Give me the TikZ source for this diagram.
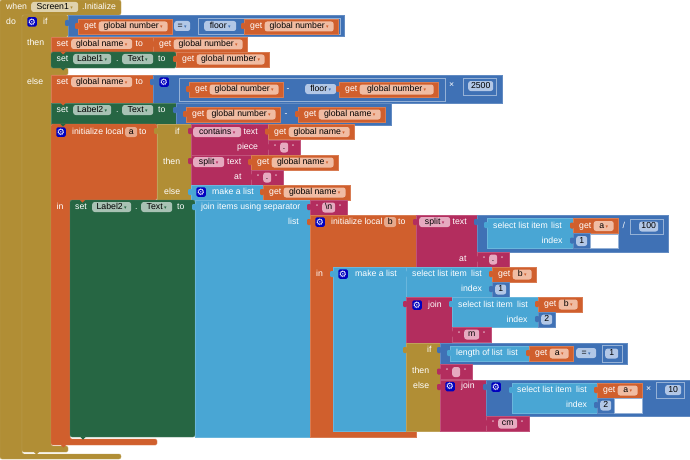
\documentclass[tikz,border=0pt]{standalone}
\usepackage{fontspec}
\setmainfont{Liberation Sans}
\newfontfamily\Nsymf{DejaVu Sans}
\definecolor{cgold}{HTML}{B18E35}
\definecolor{corange}{HTML}{D05F2D}
\definecolor{cgreen}{HTML}{266643}
\definecolor{cblue}{HTML}{3F71B5}
\definecolor{csky}{HTML}{49A6D4}
\definecolor{cmag}{HTML}{B32D5E}
\definecolor{tgold}{HTML}{DFD2AD}
\definecolor{torange}{HTML}{F0BCA3}
\definecolor{tlocal}{HTML}{E6A98C}
\definecolor{tgreen}{HTML}{A8C2B4}
\definecolor{tblue}{HTML}{B2C7E6}
\definecolor{tmag}{HTML}{E6AAC0}
\newcommand{\Ndd}[1][corange]{\,\textcolor{#1}{\Nsymf\fontsize{5}{5}\selectfont ▾}}
\newcommand{\Nblk}[5]{\draw[blk=#1] (#2,#3) rectangle (#4,#5);}
\newcommand{\Ntab}[3]{\fill[#1, rounded corners=1pt] (#2+1,#3) rectangle (#2-3,#3+6);}
\newcommand{\Nbump}[3]{\fill[#1] (#2-2.5,#3) -- (#2+2.5,#3) -- (#2,#3+2.5) -- cycle;}
\newcommand{\Nfield}[6]{\node[pill=#2, anchor=west, minimum width=(#4)-(#3)] (#1) at (#3,#5) {#6};}
\newcommand{\Ngear}[3]{\node[gearbox] (#1) at (#2,#3) {\Nsymf ⚙};}
\newcommand{\Nget}[5]{\Nblk{corange}{#2}{#3}{#4}{#3+15}\Ntab{corange}{#2}{#3+4}
  \node[lab] (#1) at (#2+6,#3+7.5) {get};
  \Nfield{#1v}{torange}{#2+20.5}{#4-4.5}{#3+7.5}{#5\Ndd}}
\newcommand{\Nstr}[5]{\Nblk{cmag}{#2}{#3}{#4}{#3+15}\Ntab{cmag}{#2}{#3+4}
  \node[qt] (#1a) at (#2+7,#3+7) {"};
  \node[qt] (#1b) at (#4-7,#3+7) {"};
  \Nfield{#1}{tmag}{#2+12}{#4-12}{#3+7.5}{#5}}
\newcommand{\Nnum}[4]{\Nblk{cblue}{#2}{#3}{#2+17}{#3+15}\Ntab{cblue}{#2}{#3+4}
  \Nfield{#1}{tblue}{#2+3}{#2+14}{#3+7.5}{#4}}

\begin{document}
\begin{tikzpicture}[
  x=1pt, y=-1pt,
  every node/.style={font=\fontsize{8.7}{10}\selectfont},
  blk/.style={fill=#1, draw=#1!82!white, line width=0.4pt},
  lab/.style={text=white, anchor=west, inner sep=0pt, text height=6.5pt, text depth=2pt},
  pill/.style={fill=#1, text=black, rounded corners=2.5pt, inner sep=0pt,
               minimum height=10pt, text height=6.5pt, text depth=2pt},
  qt/.style={text=white, inner sep=0pt, font=\fontsize{6.5}{7}\selectfont},
  gearbox/.style={fill=blue!75!black, text=white, rounded corners=1.5pt, inner sep=0pt,
                  minimum size=9.5pt, font=\fontsize{9}{9}\selectfont},
  frame/.style={draw=cblue!55!white, line width=0.4pt},
  hole/.style={fill=white, draw=cblue!55!white, line width=0.4pt}
]
\useasboundingbox (0,0) rectangle (690,460);

% ── Event block and outer if ─────────────────────────────────────────────────
\draw[blk=cgold, rounded corners=2pt] (0,0) -- (121,0) -- (121,15) -- (22,15) -- (22,454)
  -- (121,454) -- (121,459) -- (0,459) -- cycle;
\node[lab] (when) at (6,7) {when};
\Nfield{screen}{tgold}{31}{78}{7}{Screen1\Ndd[cgold]}
\node[lab] (init) at (82,7) {.Initialize};
\node[lab] (doL) at (6,22) {do};

\draw[blk=cgold, rounded corners=1.5pt] (22,15) -- (68,15) -- (68,37) -- (51,37) -- (51,68)
  -- (68,68) -- (68,75) -- (51,75) -- (51,446) -- (68,446) -- (68,452) -- (22,452) -- cycle;
\Nbump{cgold}{36.5}{452}
\Ngear{gearA}{32}{22}
\node[lab] (ifA) at (43,22) {if};
\node[lab] (thenA) at (27,43) {then};
\node[lab] (elseA) at (27,82) {else};

% ── Test of the outer if ─────────────────────────────────────────────────────
\Nblk{cblue}{68}{15}{344}{36}\Ntab{cblue}{68}{20}
\Nget{getA}{78}{19}{172}{global number}
\Nfield{eqA}{tblue}{174}{190}{26}{=\Ndd[cblue]}
\draw[frame] (198,18) rectangle (340,34);
\Nfield{floorA}{tblue}{204}{236}{26}{floor\Ndd[cblue]}
\Nget{getB}{244}{19}{338}{global number}

% ── Then branch ──────────────────────────────────────────────────────────────
\Nblk{corange}{51}{37}{247}{52}
\node[lab] (setA) at (56.5,44) {set};
\Nfield{nameA}{torange}{71}{132}{44}{global name\Ndd}
\node[lab] (toA) at (135.5,44) {to};
\Nget{getC}{153}{37}{247}{global number}
\draw[blk=cgreen, rounded corners=1.5pt] (51,52) -- (176,52) -- (176,68) -- (51,68) -- cycle;
\Nbump{corange}{63}{52}
\Nbump{cgreen}{63}{68}
\node[lab] (setB) at (56.5,59) {set};
\Nfield{labelA}{tgreen}{73}{111}{59}{Label1\Ndd[cgreen]}
\node[lab] (dotA) at (116,59) {.};
\Nfield{textA}{tgreen}{122}{153}{59}{Text\Ndd[cgreen]}
\node[lab] (toB) at (158,59) {to};
\Nget{getD}{176}{52}{269}{global number}

% ── Else branch: the two set blocks ──────────────────────────────────────────
\Nblk{corange}{51}{75}{153}{103}
\node[lab] (setC) at (56.5,82) {set};
\Nfield{nameB}{torange}{71}{132}{82}{global name\Ndd}
\node[lab] (toC) at (135.5,82) {to};
\Nblk{cblue}{153}{75}{502}{103}\Ntab{cblue}{153}{79}
\Ngear{gearB}{164}{82}
\draw[frame] (179,78) rectangle (445,101);
\Nget{getE}{189}{82}{283}{global number}
\node[lab] (minusA) at (286.5,89) {-};
\Nfield{floorB}{tblue}{305}{336}{89}{floor\Ndd[cblue]}
\Nget{getF}{339}{82}{438}{global number}
\node[lab] (timesA) at (449,85) {×};
\draw[frame] (463,78) rectangle (496,95);
\Nfield{numA}{tblue}{468}{493}{86}{2500}

\draw[blk=cgreen] (51,103) rectangle (176,124);
\Nbump{corange}{63}{103}
\node[lab] (setD) at (56.5,110) {set};
\Nfield{labelB}{tgreen}{73}{111}{110}{Label2\Ndd[cgreen]}
\node[lab] (dotB) at (116,110) {.};
\Nfield{textB}{tgreen}{122}{153}{110}{Text\Ndd[cgreen]}
\node[lab] (toD) at (158,110) {to};
\Nblk{cblue}{176}{103}{391}{125}\Ntab{cblue}{176}{107}
\Nget{getG}{186}{107}{280}{global number}
\node[lab] (minusB) at (284.5,114) {-};
\Nget{getH}{298}{107}{385}{global name}

% ── Initialize local a ───────────────────────────────────────────────────────
\draw[blk=corange, rounded corners=1.5pt] (51,124) -- (157,124) -- (157,200) -- (70,200) -- (70,439)
  -- (157,439) -- (157,445) -- (51,445) -- cycle;
\Nbump{cgreen}{63}{124}
\Nbump{corange}{63.5}{445}
\Ngear{gearC}{61}{132}
\node[lab] (initA) at (72,132) {initialize local};
\Nfield{varA}{tlocal}{125}{137}{132}{a}
\node[lab] (toE) at (139,132) {to};
\node[lab] (inA) at (56.5,207) {in};

% ── If expression for local a ────────────────────────────────────────────────
\Nblk{cgold}{157}{124}{191}{200}\Ntab{cgold}{157}{128}
\node[lab] (ifB) at (175,132) {if};
\node[lab] (thenB) at (163,162) {then};
\node[lab] (elseB) at (164,192) {else};
\Nblk{cmag}{191}{124}{268}{155}\Ntab{cmag}{191}{128}
\Nfield{containsA}{tmag}{193}{241}{132}{contains\Ndd[cmag]}
\node[lab] (textC) at (243.5,132) {text};
\node[lab] (pieceA) at (237,147) {piece};
\Nget{getI}{268}{124.5}{354}{global name}
\Nstr{strA}{268}{140}{300}{.}
\Nblk{cmag}{191}{155}{251}{185}\Ntab{cmag}{191}{158}
\Nfield{splitA}{tmag}{193}{224}{162}{split\Ndd[cmag]}
\node[lab] (textD) at (227,162) {text};
\node[lab] (atA) at (234,177) {at};
\Nget{getJ}{251}{155}{338}{global name}
\Nstr{strB}{251}{170}{283}{.}
\Nblk{csky}{191}{185}{263}{200}\Ntab{csky}{191}{189}
\Ngear{gearD}{201}{192}
\node[lab] (listA) at (212,192) {make a list};
\Nget{getK}{263}{185}{350}{global name}

% ── Set Label2 and the join ──────────────────────────────────────────────────
\draw[blk=cgreen, rounded corners=2pt] (70,200) -- (195,200) -- (195,437) -- (70,437) -- cycle;
\Nbump{corange}{82.5}{200}
\Nbump{cgreen}{83}{437}
\node[lab] (setE) at (75,207) {set};
\Nfield{labelC}{tgreen}{92}{131}{207}{Label2\Ndd[cgreen]}
\node[lab] (dotC) at (135,207) {.};
\Nfield{textE}{tgreen}{141}{172}{207}{Text\Ndd[cgreen]}
\node[lab] (toF) at (177,207) {to};
\Nblk{csky}{195}{200}{310}{437}\Ntab{csky}{195}{204}
\node[lab] (joinA) at (201,207) {join items using separator};
\node[lab] (listB) at (288,222) {list};
\Nstr{strC}{310}{200}{347}{\textbackslash n}

% ── Initialize local b ───────────────────────────────────────────────────────
\draw[blk=corange] (310,215) -- (416,215) -- (416,267) -- (333,267) -- (333,431)
  -- (416,431) -- (416,437) -- (310,437) -- cycle;
\Ntab{corange}{310}{219}
\Ngear{gearE}{320}{222}
\node[lab] (initB) at (331,222) {initialize local};
\Nfield{varB}{tlocal}{384}{396}{222}{b}
\node[lab] (toG) at (398,222) {to};
\node[lab] (inB) at (316,274) {in};

\Nblk{cmag}{416}{215}{477}{267}\Ntab{cmag}{416}{219}
\Nfield{splitB}{tmag}{419}{450}{222}{split\Ndd[cmag]}
\node[lab] (textF) at (452.5,222) {text};
\node[lab] (atB) at (459,259) {at};
\Nblk{cblue}{477}{215}{668}{252}\Ntab{cblue}{477}{219}
\Nblk{csky}{487}{218}{573}{248}\Ntab{csky}{487}{222}
\node[lab] (selA) at (493,226) {select list item};
\node[lab] (listC) at (551,226) {list};
\node[lab] (idxA) at (541.5,241) {index};
\Nget{getL}{573}{218.5}{618}{a}
\Nnum{numB}{573}{233.5}{1}
\draw[hole] (590,234) rectangle (618,248);
\node[lab] (divA) at (622.5,226) {/};
\draw[frame] (630,219) rectangle (663,234);
\Nfield{numC}{tblue}{639}{658}{226.5}{100}
\Nstr{strD}{477}{252}{509}{.}

% ── Make a list, first items ─────────────────────────────────────────────────
\Nblk{csky}{333}{267}{406}{431}\Ntab{csky}{333}{271}
\Ngear{gearF}{343}{274}
\node[lab] (listD) at (355,274) {make a list};
\Nblk{csky}{406}{267}{492}{297}\Ntab{csky}{406}{271}
\node[lab] (selB) at (412,274) {select list item};
\node[lab] (listE) at (471,274) {list};
\node[lab] (idxB) at (461,289) {index};
\Nget{getM}{492}{267}{536}{b}
\Nnum{numD}{492}{282}{1}
\Nblk{cmag}{406}{297}{452}{343}\Ntab{cmag}{406}{301}
\Ngear{gearG}{417}{305}
\node[lab] (joinB) at (428,305) {join};
\Nblk{csky}{452}{297}{538}{327}\Ntab{csky}{452}{301}
\node[lab] (selC) at (458,305) {select list item};
\node[lab] (listF) at (517,305) {list};
\node[lab] (idxC) at (506.5,320) {index};
\Nget{getN}{538}{297}{582}{b}
\Nnum{numE}{538}{312}{2}
\Nstr{strE}{452}{327}{491}{m}

% ── Inner if, last item of the list ──────────────────────────────────────────
\Nblk{cgold}{406}{343}{440}{431}\Ntab{cgold}{406}{347}
\node[lab] (ifC) at (427,350) {if};
\node[lab] (thenC) at (412,371) {then};
\node[lab] (elseC) at (413,386) {else};
\Nblk{cblue}{440}{343}{627}{364}\Ntab{cblue}{440}{347}
\Nblk{csky}{450}{346}{529}{361}\Ntab{csky}{450}{350}
\node[lab] (lenA) at (456,353) {length of list};
\node[lab] (listG) at (507,353) {list};
\Nget{getO}{529}{346}{573}{a}
\Nfield{eqB}{tblue}{576}{596}{353}{=\Ndd[cblue]}
\draw[frame] (602,345) rectangle (622,362);
\Nfield{numF}{tblue}{605}{618}{353.5}{1}
\Nstr{strF}{440}{364.5}{472}{}
\Nblk{cmag}{440}{380}{486}{431}\Ntab{cmag}{440}{384}
\Ngear{gearH}{450}{386.5}
\node[lab] (joinC) at (461,386.5) {join};
\Nblk{cblue}{486}{380}{690}{416}\Ntab{cblue}{486}{384}
\Ngear{gearI}{496}{387}
\Nblk{csky}{512}{383}{597}{413}\Ntab{csky}{512}{387}
\node[lab] (selD) at (517,390) {select list item};
\node[lab] (listH) at (576,390) {list};
\node[lab] (idxD) at (566,405) {index};
\Nget{getP}{597}{383}{642}{a}
\Nnum{numG}{597}{398}{2}
\draw[hole] (614,398) rectangle (642,413);
\node[lab] (timesB) at (646,389.5) {×};
\draw[frame] (656,382) rectangle (684,398);
\Nfield{numH}{tblue}{665}{681}{390}{10}
\Nstr{strG}{486}{416}{529}{cm}
\end{tikzpicture}
\end{document}
